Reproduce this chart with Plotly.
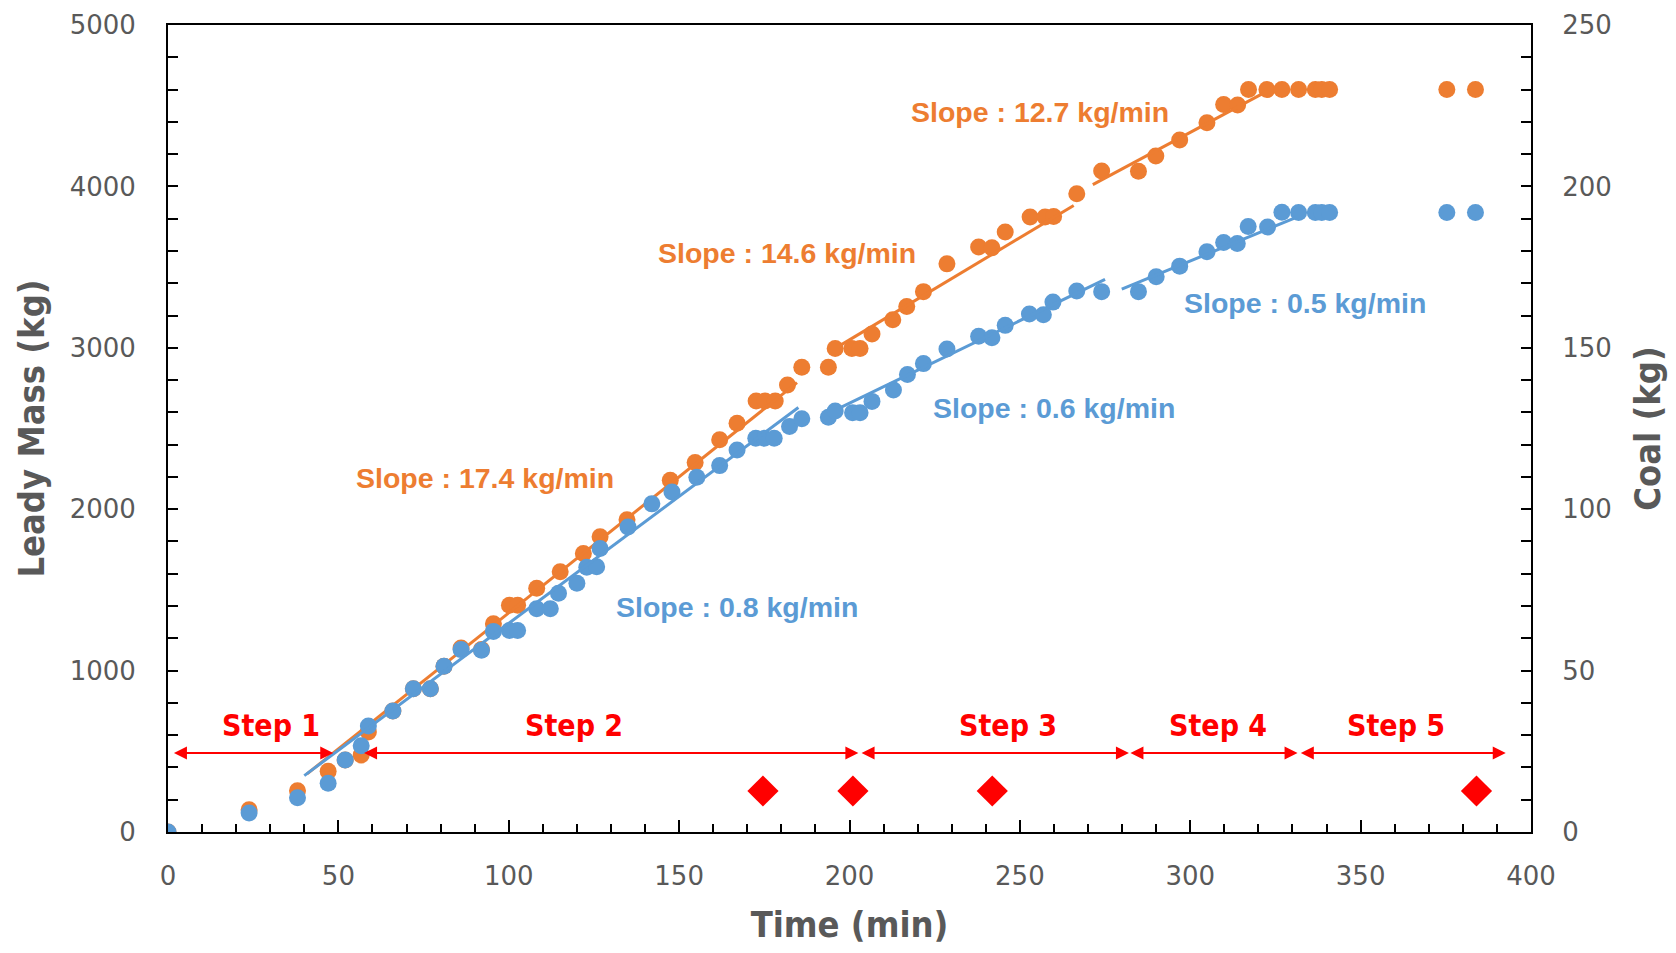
import plotly.graph_objects as go

# ---------------- data ----------------
time_orange = [0, 23.8, 38, 47, 52, 56.7, 58.8, 66, 72, 77,
               81, 86, 92, 95.5, 100.2, 102.6, 108.2, 115.1, 121.9, 126.8,
               134.7, 147.4, 154.7, 161.9, 167, 172.6, 175.2, 178.2, 181.8, 186,
               193.8, 195.8, 200.7, 203.1, 206.6, 212.7, 216.8, 221.7, 228.6, 237.9,
               241.8, 245.7, 253, 257.4, 259.9, 266.7, 274, 284.8, 289.9, 296.9,
               304.9, 309.8, 313.9, 317.1, 322.5, 326.9, 331.8, 336.7, 338.6, 340.9,
               375.3, 383.7]
mass_orange = [0, 138, 255, 376, 446, 477, 620, 750, 887, 887,
               1027, 1140, 1130, 1290, 1405, 1405, 1510, 1612, 1726, 1830,
               1935, 2180, 2290, 2430, 2533, 2670, 2670, 2670, 2770, 2880,
               2880, 2995, 2995, 2995, 3085, 3174, 3256, 3348, 3520, 3625,
               3620, 3717, 3810, 3810, 3814, 3954, 4095, 4094, 4188, 4288,
               4395, 4507, 4505, 4600, 4600, 4600, 4600, 4600, 4600, 4600,
               4600, 4600]

time_blue = [0, 23.8, 38, 47, 52, 56.7, 58.8, 66, 72, 77,
             81, 86, 92, 95.5, 100.2, 102.6, 108.2, 112.2, 114.6, 120,
             122.9, 125.8, 126.8, 135, 142, 147.9, 155.2, 161.9, 167, 172.5,
             175, 177.9, 182.4, 186, 193.8, 195.8, 200.9, 203.1, 206.6, 212.9,
             217, 221.7, 228.6, 237.9, 241.8, 245.7, 252.8, 256.9, 259.7, 266.7,
             274, 284.8, 290, 296.9, 304.9, 309.8, 313.8, 317, 322.7, 326.9,
             331.8, 336.7, 338.6, 340.9, 375.3, 383.7]
mass_blue = [0, 118, 212, 302, 446, 534, 657, 750, 887, 887,
             1027, 1130, 1126, 1243, 1248, 1248, 1383, 1383, 1479, 1541,
             1640, 1643, 1757, 1890, 2033, 2106, 2198, 2270, 2367, 2440,
             2440, 2440, 2512, 2560, 2570, 2608, 2598, 2598, 2668, 2738,
             2834, 2902, 2993, 3071, 3062, 3139, 3209, 3205, 3283, 3352,
             3348, 3348, 3440, 3506, 3595, 3652, 3646, 3752, 3748, 3840,
             3838, 3838, 3838, 3838, 3838, 3838]

# linear fit segments (endpoints)
fit_orange_t = [[40.8, 184.6], [196.8, 265.8], [271.4, 323.0]]
fit_orange_v = [[360, 2784], [3009, 3882], [4011, 4595]]
fit_blue_t = [[40.0, 185.0], [197.3, 275.0], [279.9, 331.3]]
fit_blue_v = [[349, 2630], [2629, 3424], [3363, 3810]]

coal_time = [174.6, 201.0, 241.9, 384.0]
coal_mass = [12.7, 12.7, 12.7, 12.7]

slope_labels = ["Slope : 17.4 kg/min", "Slope : 14.6 kg/min", "Slope : 12.7 kg/min",
                "Slope : 0.8 kg/min", "Slope : 0.6 kg/min", "Slope : 0.5 kg/min"]
slope_t = [92.9, 181.6, 256.0, 166.9, 260.0, 333.8]
slope_v = [2193, 3590, 4459, 1396, 2628, 3280]
slope_series = ["o", "o", "o", "b", "b", "b"]

step_labels = ["Step 1", "Step 2", "Step 3", "Step 4", "Step 5"]
step_label_t = [30.1, 119.2, 246.4, 308.0, 360.4]
step_start = [1.3, 57.1, 203.1, 282.0, 332.0]
step_end = [48.5, 202.6, 282.0, 331.5, 392.6]
step_arrow_level = 490
step_label_level = 657

# ---------------- styling ----------------
ORANGE = "#ED7D31"
BLUE = "#5B9BD5"
RED = "#FF0000"
GRAY = "#595959"
TICKFONT = dict(family="DejaVu Sans", size=26, color=GRAY)
TITLEFONT = dict(family="Liberation Sans Narrow, DejaVu Sans Condensed, sans-serif", size=36, color=GRAY)
LABELFONT = "Liberation Sans, Arial, sans-serif"

fig = go.Figure()

fig.add_trace(go.Scatter(x=time_orange, y=mass_orange, mode="markers",
                         marker=dict(color=ORANGE, size=17), showlegend=False))
for tt, vv in zip(fit_orange_t, fit_orange_v):
    fig.add_trace(go.Scatter(x=tt, y=vv, mode="lines",
                             line=dict(color=ORANGE, width=3), showlegend=False))
fig.add_trace(go.Scatter(x=time_blue, y=mass_blue, mode="markers",
                         marker=dict(color=BLUE, size=17), showlegend=False))
for tt, vv in zip(fit_blue_t, fit_blue_v):
    fig.add_trace(go.Scatter(x=tt, y=vv, mode="lines",
                             line=dict(color=BLUE, width=3), showlegend=False))

fig.add_trace(go.Scatter(x=coal_time, y=coal_mass, mode="markers", yaxis="y2",
                         marker=dict(color=RED, size=24, symbol="diamond"),
                         showlegend=False))

annotations = []
for txt, t, v, s in zip(slope_labels, slope_t, slope_v, slope_series):
    annotations.append(dict(x=t, y=v, xref="x", yref="y", text="<b>" + txt + "</b>",
                            showarrow=False,
                            font=dict(family=LABELFONT, size=28.5,
                                      color=ORANGE if s == "o" else BLUE)))
for txt, t in zip(step_labels, step_label_t):
    annotations.append(dict(x=t, y=step_label_level, xref="x", yref="y",
                            text="<b>" + txt + "</b>", showarrow=False,
                            font=dict(family="Liberation Sans Narrow, DejaVu Sans Condensed, sans-serif",
                                      size=30, color=RED)))
for a, b in zip(step_start, step_end):
    annotations.append(dict(x=b, y=step_arrow_level, ax=a, ay=step_arrow_level,
                            xref="x", yref="y", axref="x", ayref="y", text="",
                            showarrow=True, arrowside="end+start", arrowhead=2,
                            startarrowhead=2, arrowsize=1.3, startarrowsize=1.3,
                            arrowwidth=2, arrowcolor=RED))

fig.update_layout(
    width=1660, height=937,
    margin=dict(l=160, r=137, t=17, b=113, autoexpand=False),
    paper_bgcolor="white", plot_bgcolor="white",
    annotations=annotations,
    xaxis=dict(range=[0, 400], dtick=50, showgrid=False, zeroline=False,
               showline=True, linecolor="black", linewidth=2, mirror=True,
               ticks="inside", ticklen=12, tickcolor="black", tickwidth=2,
               minor=dict(dtick=10, ticks="inside", ticklen=8, tickcolor="black", tickwidth=1.5),
               tickfont=TICKFONT, ticklabelstandoff=20, automargin=False,
               ticklabeloverflow="allow",
               title=dict(text="<b>Time (min)</b>", font=TITLEFONT, standoff=33)),
    yaxis=dict(range=[0, 5000], dtick=1000, showgrid=False, zeroline=False,
               showline=True, linecolor="black", linewidth=2,
               ticks="inside", ticklen=10, tickcolor="black", tickwidth=2,
               minor=dict(dtick=200, ticks="inside", ticklen=10, tickcolor="black", tickwidth=2),
               tickfont=TICKFONT, ticklabelstandoff=25, automargin=False,
               ticklabeloverflow="allow",
               title=dict(text="<b>Leady Mass (kg)</b>", font=TITLEFONT, standoff=14)),
    yaxis2=dict(range=[0, 250], dtick=50, overlaying="y", side="right",
                showgrid=False, zeroline=False,
                showline=True, linecolor="black", linewidth=2,
                ticks="inside", ticklen=10, tickcolor="black", tickwidth=2,
                minor=dict(dtick=10, ticks="inside", ticklen=10, tickcolor="black", tickwidth=2),
                tickfont=TICKFONT, ticklabelstandoff=24, automargin=False,
                ticklabeloverflow="allow",
                title=dict(text="<b>Coal (kg)</b>", font=TITLEFONT, standoff=28)),
)

fig.write_html("out.html")
